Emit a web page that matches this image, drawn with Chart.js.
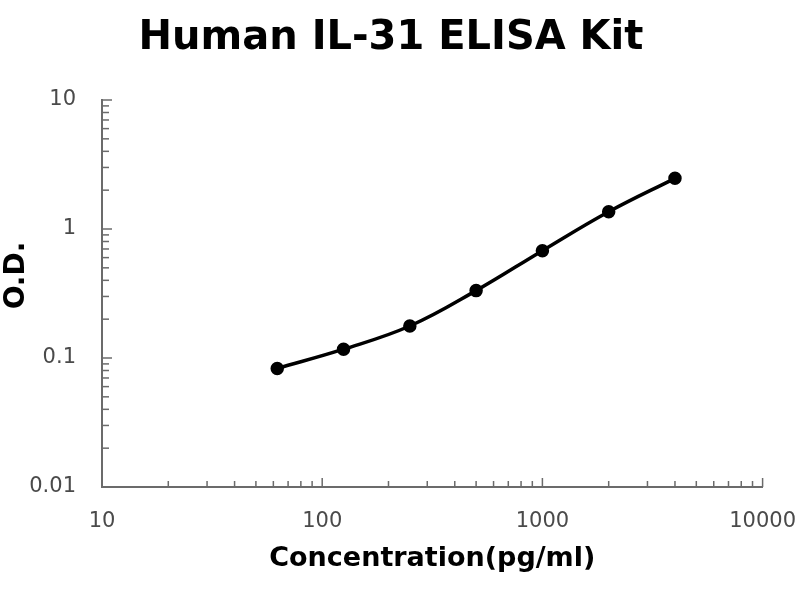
<!DOCTYPE html>
<html>
<head>
<meta charset="utf-8">
<script src="https://cdn.jsdelivr.net/npm/chart.js@4/dist/chart.umd.min.js"></script>
<style>
  html, body { margin: 0; padding: 0; background: #fff; }
  #wrap { width: 800px; height: 600px; }
</style>
</head>
<body>
<div id="wrap"><canvas id="c" width="800" height="600"></canvas></div>
<script>
// ---- data ----
const concentrations = [62.5, 125, 250, 500, 1000, 2000, 4000];
const odValues = [0.083, 0.117, 0.177, 0.333, 0.679, 1.36, 2.47];
const xTickLabels = ['10', '100', '1000', '10000'];
const yTickLabels = ['0.01', '0.1', '1', '10'];
const chartTitle = 'Human IL-31 ELISA Kit';
const xTitle = 'Concentration(pg/ml)';
const yTitle = 'O.D.';

const axisColor = '#6b6b6b';
const tickTextColor = '#4a4a4a';

function decadeTicks(labels) {
  const vals = labels.map(Number);
  const out = [];
  for (let i = 0; i < vals.length - 1; i++) {
    for (let m = 1; m <= 9; m++) out.push({ value: +(vals[i] * m).toPrecision(6), major: m === 1 });
  }
  out.push({ value: vals[vals.length - 1], major: true });
  return out;
}

function labelFor(labels) {
  return function (value) {
    const idx = labels.map(Number).findIndex(v => Math.abs(v - value) / v < 1e-6);
    return idx >= 0 ? labels[idx] : '';
  };
}

const insideTicks = {
  id: 'insideTicks',
  afterDraw(chart) {
    const ctx = chart.ctx;
    const xs = chart.scales.x, ys = chart.scales.y;
    const area = chart.chartArea;
    ctx.save();
    ctx.strokeStyle = axisColor;
    ctx.lineWidth = 1.5;
    xs.ticks.forEach(t => {
      const px = xs.getPixelForValue(t.value);
      const len = t.major ? 9 : 6;
      ctx.beginPath();
      ctx.moveTo(px, area.bottom);
      ctx.lineTo(px, area.bottom - len);
      ctx.stroke();
    });
    ys.ticks.forEach(t => {
      const py = ys.getPixelForValue(t.value);
      const len = t.major ? 10 : 7;
      ctx.beginPath();
      ctx.moveTo(area.left, py);
      ctx.lineTo(area.left + len, py);
      ctx.stroke();
    });
    ctx.restore();
  }
};

// vertical axis title, drawn slightly above the axis middle as in the reference
const yAxisTitle = {
  id: 'yAxisTitle',
  afterDraw(chart) {
    const ctx = chart.ctx;
    const area = chart.chartArea;
    ctx.save();
    ctx.translate(17, (area.top + area.bottom) / 2 - 18);
    ctx.rotate(-Math.PI / 2);
    ctx.fillStyle = '#000';
    ctx.font = 'bold 28px "DejaVu Sans"';
    ctx.textAlign = 'center';
    ctx.textBaseline = 'middle';
    ctx.fillText(yTitle, 0, 0);
    ctx.restore();
  }
};

new Chart(document.getElementById('c'), {
  type: 'line',
  data: {
    datasets: [{
      data: concentrations.map((c, i) => ({ x: c, y: odValues[i] })),
      borderColor: '#000',
      backgroundColor: '#000',
      borderWidth: 3.5,
      pointRadius: 5,
      pointBackgroundColor: '#000',
      pointBorderColor: '#000',
      tension: 0.4,
      fill: false
    }]
  },
  options: {
    responsive: false,
    animation: false,
    devicePixelRatio: 1,
    layout: { padding: { left: 0, right: 18, top: 0, bottom: 0 } },
    plugins: {
      legend: { display: false },
      tooltip: { enabled: false },
      title: {
        display: true,
        text: chartTitle,
        color: '#000',
        font: { family: 'DejaVu Sans', size: 40, weight: 'bold' },
        padding: { top: 15, bottom: 37 }
      }
    },
    scales: {
      x: {
        type: 'logarithmic',
        min: 10,
        max: 10000,
        afterBuildTicks(scale) { scale.ticks = decadeTicks(xTickLabels); },
        afterFit(scale) { scale.height = 113; },
        grid: { display: true, drawOnChartArea: false, drawTicks: true, tickLength: 18, tickColor: 'rgba(0,0,0,0)' },
        border: { display: true, color: axisColor, width: 2 },
        ticks: {
          autoSkip: false,
          maxRotation: 0,
          padding: 4,
          color: tickTextColor,
          font: { family: 'DejaVu Sans', size: 21 },
          callback: labelFor(xTickLabels)
        },
        title: {
          display: true,
          text: xTitle,
          color: '#000',
          font: { family: 'DejaVu Sans', size: 27, weight: 'bold' },
          padding: { top: 0, bottom: 25 }
        }
      },
      y: {
        type: 'logarithmic',
        min: 0.01,
        max: 10,
        afterBuildTicks(scale) { scale.ticks = decadeTicks(yTickLabels); },
        afterFit(scale) { scale.width = 102; },
        grid: { display: true, drawOnChartArea: false, drawTicks: false },
        border: { display: true, color: axisColor, width: 2 },
        ticks: {
          autoSkip: false,
          padding: 26,
          color: tickTextColor,
          font: { family: 'DejaVu Sans', size: 21 },
          callback: labelFor(yTickLabels)
        },
        title: { display: false }
      }
    }
  },
  plugins: [insideTicks, yAxisTitle]
});
</script>
</body>
</html>
